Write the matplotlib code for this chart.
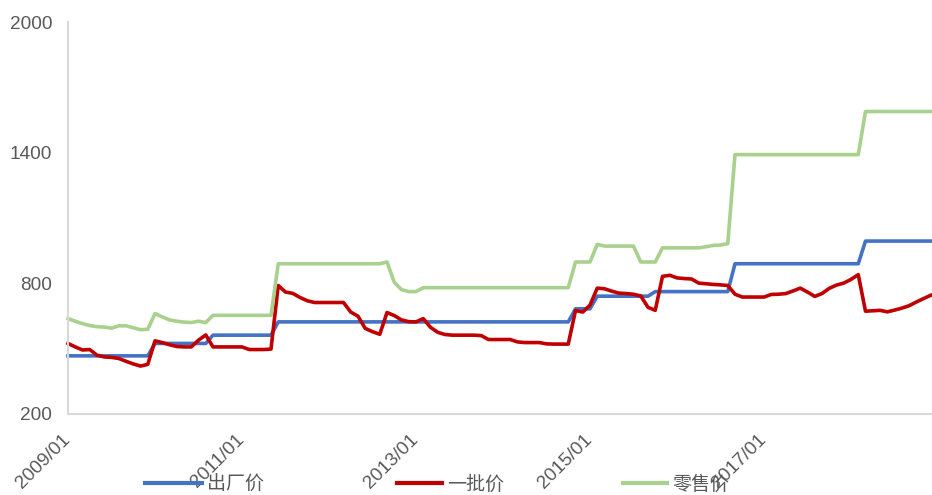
import matplotlib
matplotlib.use("Agg")
import matplotlib.pyplot as plt
from matplotlib.lines import Line2D

plt.rcParams['font.family'] = ['Liberation Sans', 'Noto Sans CJK SC', 'DejaVu Sans']

series_names = ['出厂价', '一批价', '零售价']
x_tick_labels = ['2009/01', '2011/01', '2013/01', '2015/01', '2017/01']
y_ticks = [200, 800, 1400, 2000]

# monthly values 2009/01 .. 2018/12
ex_factory = ([467] * 12 + [524] * 8 + [562] * 9 + [623] * 41 + [683] * 3 +
              [741] * 8 + [762] * 11 + [890] * 18 + [994] * 10)

wholesale = [524, 508, 494, 496, 470, 462, 460, 455, 442, 430, 420, 428,
             536, 528, 518, 510, 508, 508, 539, 563,
             508, 508, 508, 508, 508,
             496, 496, 496, 498,
             790, 760, 754, 735, 720, 712,
             712, 712, 712, 712,
             668, 649, 593, 578, 566,
             666, 652, 632, 624, 623, 638, 598, 575, 565, 562,
             562, 562, 562, 560,
             542, 542, 542, 542,
             531,
             528, 528, 528,
             522, 521, 521, 521,
             675, 668, 700, 778, 775, 764, 755, 753, 750, 742, 690, 676,
             832, 837, 825, 822, 820, 801, 798, 795, 793, 790,
             750, 737, 737, 737, 737, 749, 750, 753,
             765, 778, 760, 740, 753, 777, 792, 801, 818, 840,
             672, 674, 676, 669, 677, 686, 697, 714, 730, 745]

retail = ([638, 626, 615, 606, 601, 599, 594, 605, 605, 596, 587, 589] +
          [661, 646, 632, 626, 622, 620, 626, 620] +
          [653] * 9 + [890] * 15 + [898] +
          [805, 771, 762, 762] + [780] * 21 +
          [898] * 3 + [979] + [971] * 5 + [898] * 3 +
          [963, 963, 963, 963, 963, 963, 968, 974, 976, 982] +
          [1391] * 18 + [1589] * 10)

colors = ['#4472C4', '#C00000', '#A9D18E']
W, H = 932, 495
fig = plt.figure(figsize=(W / 100, H / 100), dpi=100)
ax = fig.add_axes([68 / W, 81 / H, (930.75 - 68) / W, (414 - 22) / H])

months = list(range(len(ex_factory)))
lines = []
for vals, c, name in zip([ex_factory, wholesale, retail], colors, series_names):
    ln, = ax.plot(months, vals, color=c, lw=2.6, solid_joinstyle='round',
                  label=name, clip_on=False)
    lines.append(ln)

ax.set_xlim(0, len(months) - 1)
ax.set_ylim(200, 2000)
ax.set_yticks(y_ticks)
ax.set_yticklabels([str(v) for v in y_ticks])
ax.set_xticks(list(range(0, len(months), 24))[:len(x_tick_labels)])
ax.set_xticklabels(x_tick_labels)

for s in ['top', 'right']:
    ax.spines[s].set_visible(False)
for s in ['left', 'bottom']:
    ax.spines[s].set_color('#d9d9d9')
    ax.spines[s].set_linewidth(1.5)

ax.tick_params(axis='both', length=0, labelsize=13.7, labelcolor='#595959')
ax.tick_params(axis='y', pad=11.5)
ax.tick_params(axis='x', pad=16.5)
plt.setp(ax.get_xticklabels(), rotation=45, ha='right', va='center',
         rotation_mode='anchor')

# legend entries
fs = 13.7
em = fs * 100 / 72.0
legend_specs = [(145, 57), (397, 45), (623, 44)]
for ln, name, (x0, hl) in zip(lines, series_names, legend_specs):
    leg = fig.legend(handles=[Line2D([], [], color=ln.get_color(), lw=3.0)],
                     labels=[name], loc='center left',
                     bbox_to_anchor=(x0 / W, 1 - 484 / H), frameon=False,
                     handlelength=hl / em, handletextpad=5 / em,
                     borderpad=0, borderaxespad=0,
                     prop={'family': ['Noto Sans CJK SC', 'DejaVu Sans'], 'size': fs})
    for t in leg.get_texts():
        t.set_color('#595959')

fig.savefig('out.png', dpi=100)
